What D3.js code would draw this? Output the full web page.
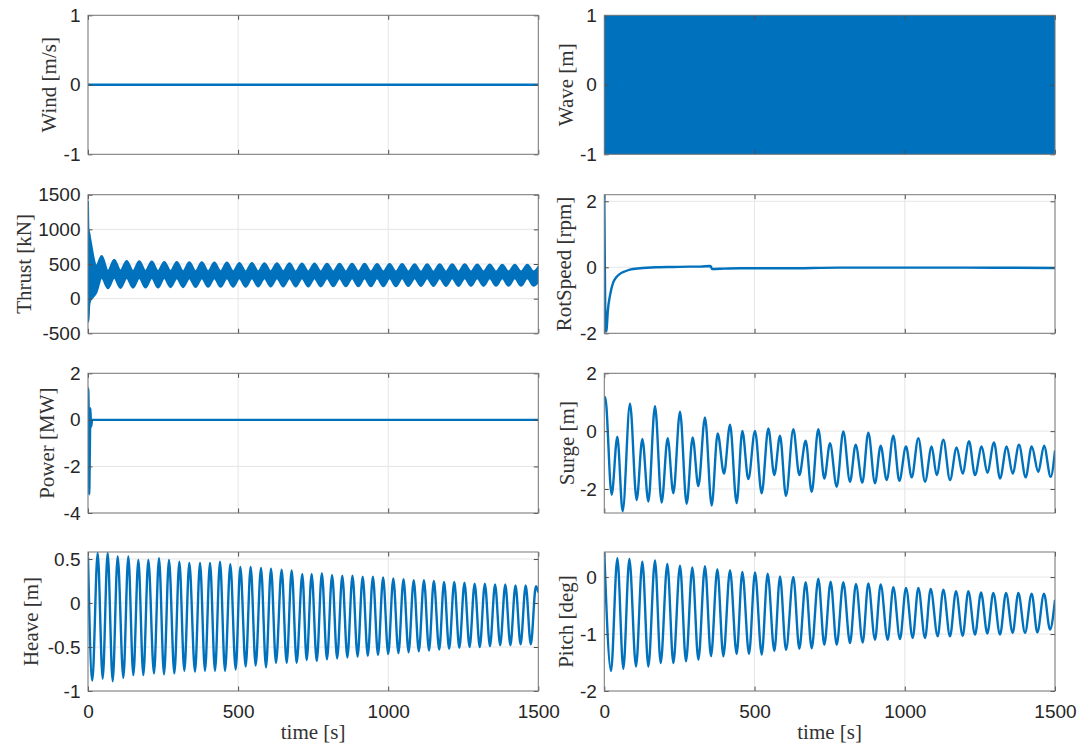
<!DOCTYPE html>
<html>
<head>
<meta charset="utf-8">
<script src="https://cdn.jsdelivr.net/npm/d3@7"></script>
<style>
  html, body { margin: 0; padding: 0; background: #fff; }
  svg { display: block; }
</style>
</head>
<body>
<svg id="chart" width="1082" height="747"></svg>
<script>
// ---------------- DATA ----------------
const xTicks = [0, 500, 1000, 1500];
const xLabel = "time [s]";

// Wind [m/s]
const windT = [0, 1500];
const windV = [0, 0];
const windTicks = [-1, 0, 1];

// Wave [m] (very dense oscillation: drawn as its envelope)
const waveT = [0, 1500];
const waveHi = [1, 1];
const waveLo = [-1, -1];
const waveTicks = [-1, 0, 1];

// Thrust [kN] (band: upper / lower envelope)
const thrustT = [0, 1.5, 4, 8, 14, 20, 27, 45.6, 66.5, 87.3, 108.2, 129, 149.9, 170.7, 191.6, 212.4, 233.3, 254.1, 275, 295.8, 316.7, 337.5, 358.4, 379.2, 400.1, 420.9, 441.8, 462.6, 483.5, 504.3, 525.2, 546, 566.9, 587.7, 608.6, 629.4, 650.3, 671.1, 692, 712.8, 733.7, 754.5, 775.4, 796.2, 817.1, 837.9, 858.8, 879.6, 900.5, 921.3, 942.2, 963, 983.9, 1004.7, 1025.6, 1046.4, 1067.3, 1088.1, 1109, 1129.8, 1150.7, 1171.5, 1192.4, 1213.2, 1234.1, 1254.9, 1275.8, 1296.6, 1317.5, 1338.3, 1359.2, 1380, 1400.9, 1421.7, 1442.6, 1463.4, 1484.3, 1500];
const thrustHi = [1400, 1000, 950, 850, 700, 560, 470, 615, 400, 560, 405, 545, 400, 540, 400, 535, 398, 530, 398, 530, 396, 525, 396, 525, 395, 520, 395, 520, 395, 515, 395, 515, 394, 512, 394, 510, 394, 510, 393, 508, 393, 508, 393, 505, 392, 505, 392, 505, 392, 502, 392, 500, 391, 500, 391, 500, 391, 498, 390, 498, 390, 495, 390, 495, 390, 495, 390, 492, 390, 492, 390, 490, 390, 490, 390, 490, 390, 460];
const thrustLo = [-330, -330, -100, -20, 10, 40, 80, 300, 150, 300, 155, 298, 158, 298, 160, 297, 162, 297, 165, 296, 166, 296, 168, 295, 170, 295, 170, 295, 172, 295, 172, 295, 174, 295, 175, 295, 175, 295, 176, 295, 176, 295, 177, 295, 178, 295, 178, 295, 179, 295, 180, 295, 180, 295, 180, 295, 181, 295, 182, 295, 182, 295, 183, 295, 183, 295, 184, 295, 184, 295, 185, 295, 185, 295, 186, 295, 186, 240];
const thrustTicks = [-500, 0, 500, 1000, 1500];

// RotSpeed [rpm]
const rotT = [0, 1, 3, 6, 8, 12, 19, 30, 40, 52, 70, 85, 119, 174, 230, 285, 320, 352, 355, 358, 400, 452, 600, 785, 1000, 1200, 1500];
const rotV = [2.2, 1.0, -1.2, -1.95, -1.85, -1.3, -0.85, -0.45, -0.3, -0.2, -0.12, -0.07, -0.03, 0, 0.01, 0.02, 0.02, 0.04, 0.02, -0.05, -0.04, -0.03, -0.03, -0.01, -0.01, -0.01, -0.02];
const rotTicks = [-2, 0, 2];

// Power [MW]
const powT = [0, 0.5, 2, 4, 6, 8, 10, 14, 1500];
const powV = [0.4, 1.35, 0.6, -3.2, -1.5, 0.5, -0.3, 0, 0];
const powTicks = [-4, -2, 0, 2];

// Surge [m] (extrema)
const surgeT = [0, 3, 24.5, 43.4, 61.1, 85.5, 107.7, 126.6, 146.6, 168.7, 190.9, 210.9, 229.8, 251.9, 274.1, 294.1, 313, 335.1, 357.3, 377.3, 398.4, 418.4, 440.5, 459.4, 479.4, 501.6, 523.8, 545.9, 565.9, 584.8, 604.7, 629.1, 649.1, 670.2, 690.2, 712.3, 732.3, 751.2, 773.4, 795.5, 817.7, 836.6, 858.8, 878.7, 900.9, 919.8, 939.8, 961.9, 981.9, 1004.1, 1023, 1045.2, 1067.4, 1089.5, 1106.2, 1128.4, 1150.5, 1172.7, 1192.7, 1213.8, 1233.8, 1256, 1274.8, 1297, 1317, 1339.2, 1359.1, 1380.2, 1402.4, 1422.4, 1444.5, 1463.4, 1485.6, 1500];
const surgeV = [1.09, 1.17, -2.2, -0.19, -2.77, 0.95, -2.38, -0.27, -2.43, 0.86, -2.47, -0.24, -2.15, 0.67, -2.51, -0.22, -1.9, 0.47, -2.57, -0.08, -1.47, 0.22, -2.49, 0.01, -1.66, 0.01, -2.15, 0.09, -1.52, -0.16, -2.24, 0.07, -1.52, -0.33, -2.1, 0.07, -1.64, -0.42, -1.92, -0.01, -1.75, -0.47, -1.78, -0.05, -1.8, -0.5, -1.69, -0.16, -1.72, -0.53, -1.6, -0.24, -1.75, -0.53, -1.52, -0.3, -1.69, -0.56, -1.47, -0.35, -1.52, -0.53, -1.44, -0.39, -1.64, -0.53, -1.47, -0.47, -1.6, -0.53, -1.41, -0.5, -1.58, -0.67];
const surgeTicks = [-2, 0, 2];

// Heave [m]
const heaveT = [0, 14.4, 32.2, 48.9, 65.5, 82.2, 98.8, 117.7, 134.3, 151, 167.7, 184.3, 201, 219.8, 236.5, 253.2, 269.8, 287.6, 304.3, 320.9, 337.5, 356.4, 373.1, 389.7, 406.4, 423, 439.7, 456.4, 474.1, 491.9, 507.4, 525.2, 541.8, 558.5, 576.3, 592.9, 609.6, 626.2, 645.1, 661.8, 678.4, 695.1, 713.9, 728.4, 745, 762, 779, 796, 813, 830, 847, 864, 881, 898, 915, 932, 949, 966, 983, 1000, 1017, 1034, 1051, 1068, 1085, 1102, 1119, 1136, 1152, 1170, 1186, 1203, 1220, 1237, 1254, 1271, 1288, 1305, 1322, 1339, 1356, 1373, 1390, 1407, 1424, 1441, 1458, 1475, 1492, 1500];
const heaveV = [0.52, -0.88, 0.57, -0.86, 0.57, -0.89, 0.53, -0.85, 0.53, -0.82, 0.49, -0.82, 0.49, -0.80, 0.51, -0.81, 0.49, -0.80, 0.47, -0.77, 0.455, -0.78, 0.455, -0.77, 0.455, -0.77, 0.47, -0.77, 0.44, -0.755, 0.41, -0.72, 0.41, -0.71, 0.40, -0.73, 0.39, -0.68, 0.38, -0.68, 0.37, -0.68, 0.33, -0.65, 0.33, -0.66, 0.34, -0.64, 0.32, -0.63, 0.31, -0.62, 0.31, -0.61, 0.30, -0.60, 0.30, -0.59, 0.29, -0.58, 0.28, -0.57, 0.27, -0.56, 0.26, -0.55, 0.26, -0.54, 0.25, -0.53, 0.24, -0.52, 0.24, -0.51, 0.23, -0.50, 0.22, -0.50, 0.22, -0.49, 0.21, -0.48, 0.21, -0.48, 0.20, -0.47, 0.20, -0.47, 0.19, 0.12];
const heaveTicks = [-1, -0.5, 0, 0.5];

// Pitch [deg]
const pitchT = [0, 22.3, 43.4, 63.3, 83.4, 105.5, 126.6, 146.6, 168.7, 187.6, 209.8, 229.8, 251.9, 271.9, 293, 313, 335.1, 355.1, 376.2, 396.2, 418.4, 440.5, 459.4, 481.6, 501.6, 523.8, 543.7, 565.9, 584.8, 604.7, 629.1, 649.1, 670.2, 690.2, 712.3, 732.3, 753.3, 773.4, 795.5, 817.7, 837.6, 859.9, 878.7, 900.9, 919.8, 943.1, 961.9, 984.1, 1004.1, 1026.3, 1045.2, 1067.4, 1086.2, 1109.5, 1128.4, 1150.5, 1170.5, 1192.7, 1211.6, 1233.8, 1253.8, 1274.8, 1294.8, 1317, 1337, 1359.1, 1378, 1400.2, 1422.4, 1441.2, 1463.4, 1483.4, 1500];
const pitchV = [0.43, -1.65, 0.33, -1.61, 0.32, -1.57, 0.27, -1.57, 0.29, -1.51, 0.23, -1.51, 0.20, -1.48, 0.17, -1.45, 0.19, -1.39, 0.14, -1.39, 0.12, -1.35, 0.09, -1.35, 0.08, -1.36, 0.06, -1.30, 0.01, -1.28, 0, -1.26, -0.09, -1.25, -0.03, -1.19, -0.08, -1.19, -0.09, -1.16, -0.12, -1.15, -0.11, -1.10, -0.13, -1.10, -0.18, -1.09, -0.19, -1.07, -0.19, -1.07, -0.21, -1.04, -0.22, -1.04, -0.25, -1.03, -0.25, -1.01, -0.27, -0.99, -0.28, -1.01, -0.28, -0.98, -0.28, -0.98, -0.29, -0.97, -0.29, -0.92, -0.4];
const pitchTicks = [-2, -1, 0];

// ---------------- LAYOUT ----------------
const colLeft = [88, 604.3];
const colRight = [538.3, 1055];
const rowTop = [15.3, 194.7, 373.3, 552];
const rowBottom = [154.3, 333.3, 513, 691];

const BLUE = "#0072BD";
const pts = (T, V) => T.map((t, i) => [t, V[i]]);

const panels = [
  { col: 0, row: 0, label: "Wind [m/s]", domain: [-1, 1], ticks: windTicks, labelX: 56, kind: "line", data: pts(windT, windV) },
  { col: 0, row: 1, label: "Thrust [kN]", domain: [-500, 1500], ticks: thrustTicks, labelX: 31, kind: "band", T: thrustT, hi: thrustHi, lo: thrustLo },
  { col: 0, row: 2, label: "Power [MW]", domain: [-4, 2], ticks: powTicks, labelX: 53.5, kind: "line", data: pts(powT, powV) },
  { col: 0, row: 3, label: "Heave [m]", domain: [-1, 0.58], ticks: heaveTicks, labelX: 37.5, kind: "line", data: pts(heaveT, heaveV) },
  { col: 1, row: 0, label: "Wave [m]", domain: [-1, 1], ticks: waveTicks, labelX: 572.5, kind: "band", T: waveT, hi: waveHi, lo: waveLo },
  { col: 1, row: 1, label: "RotSpeed [rpm]", domain: [-2, 2.2], ticks: rotTicks, labelX: 571, kind: "line", data: pts(rotT, rotV) },
  { col: 1, row: 2, label: "Surge [m]", domain: [-2.83, 2], ticks: surgeTicks, labelX: 573.5, kind: "line", data: pts(surgeT, surgeV) },
  { col: 1, row: 3, label: "Pitch [deg]", domain: [-2, 0.44], ticks: pitchTicks, labelX: 572.5, kind: "line", data: pts(pitchT, pitchV) }
];

const svg = d3.select("#chart");
svg.append("rect").attr("width", 1082).attr("height", 747).attr("fill", "#fff");

const TICKFONT = "'Liberation Sans', Arial, Helvetica, sans-serif";
const LABELFONT = "'Liberation Serif', 'Times New Roman', serif";

panels.forEach((p, idx) => {
  const L = colLeft[p.col], R = colRight[p.col], Tp = rowTop[p.row], B = rowBottom[p.row];
  const x = d3.scaleLinear().domain([0, 1500]).range([L, R]);
  const y = d3.scaleLinear().domain(p.domain).range([B, Tp]);
  const g = svg.append("g");

  // grid
  g.append("g").selectAll("line").data(xTicks).join("line")
    .attr("x1", d => x(d)).attr("x2", d => x(d)).attr("y1", Tp).attr("y2", B)
    .attr("stroke", "#e6e6e6").attr("stroke-width", 1);
  g.append("g").selectAll("line").data(p.ticks).join("line")
    .attr("x1", L).attr("x2", R).attr("y1", d => y(d)).attr("y2", d => y(d))
    .attr("stroke", "#e6e6e6").attr("stroke-width", 1);

  // clip
  const cid = "clip" + idx;
  svg.append("clipPath").attr("id", cid).append("rect")
    .attr("x", L).attr("y", Tp).attr("width", R - L).attr("height", B - Tp);
  const dg = g.append("g").attr("clip-path", `url(#${cid})`);

  if (p.kind === "line") {
    const line = d3.line().x(d => x(d[0])).y(d => y(d[1])).curve(d3.curveMonotoneX);
    dg.append("path").datum(p.data).attr("d", line)
      .attr("fill", "none").attr("stroke", BLUE).attr("stroke-width", 2.4)
      .attr("stroke-linejoin", "round");
  } else {
    const area = d3.area().x(d => x(d.t)).y0(d => y(d.lo)).y1(d => y(d.hi)).curve(d3.curveMonotoneX);
    const ad = p.T.map((t, i) => ({ t, hi: p.hi[i], lo: p.lo[i] }));
    dg.append("path").datum(ad).attr("d", area)
      .attr("fill", BLUE).attr("stroke", BLUE).attr("stroke-width", 2)
      .attr("stroke-linejoin", "round");
  }

  // axes (ticks inward)
  const isBottom = p.row === 3;
  const ax = d3.axisBottom(x).tickValues(xTicks).tickSize(-4.5).tickPadding(13.5)
    .tickFormat(isBottom ? (d => String(d)) : () => "");
  const axT = d3.axisTop(x).tickValues(xTicks).tickSize(-4.5).tickFormat(() => "");
  const ay = d3.axisLeft(y).tickValues(p.ticks).tickSize(-4.5).tickPadding(7.5).tickFormat(d => String(d));
  const ayR = d3.axisRight(y).tickValues(p.ticks).tickSize(-4.5).tickFormat(() => "");

  [[ax, `translate(0,${B})`], [axT, `translate(0,${Tp})`], [ay, `translate(${L},0)`], [ayR, `translate(${R},0)`]].forEach(([a, tr]) => {
    const ag = g.append("g").attr("transform", tr).call(a);
    ag.select(".domain").remove();
    ag.selectAll(".tick line").attr("stroke", "#4d4d4d").attr("stroke-width", 1);
    ag.selectAll(".tick text").attr("fill", "#262626")
      .style("font-family", TICKFONT).style("font-size", "19px");
  });

  // box
  g.append("rect").attr("x", L).attr("y", Tp).attr("width", R - L).attr("height", B - Tp)
    .attr("fill", "none").attr("stroke", "#7a7a7a").attr("stroke-width", 1);

  // y label
  const cy = (Tp + B) / 2;
  g.append("text").attr("transform", `translate(${p.labelX},${cy}) rotate(-90)`)
    .attr("text-anchor", "middle").attr("fill", "#333")
    .style("font-family", LABELFONT).style("font-size", "21px")
    .text(p.label);

  if (isBottom) {
    g.append("text").attr("x", (L + R) / 2).attr("y", 739)
      .attr("text-anchor", "middle").attr("fill", "#333")
      .style("font-family", LABELFONT).style("font-size", "21px")
      .text(xLabel);
  }
});
</script>
</body>
</html>
